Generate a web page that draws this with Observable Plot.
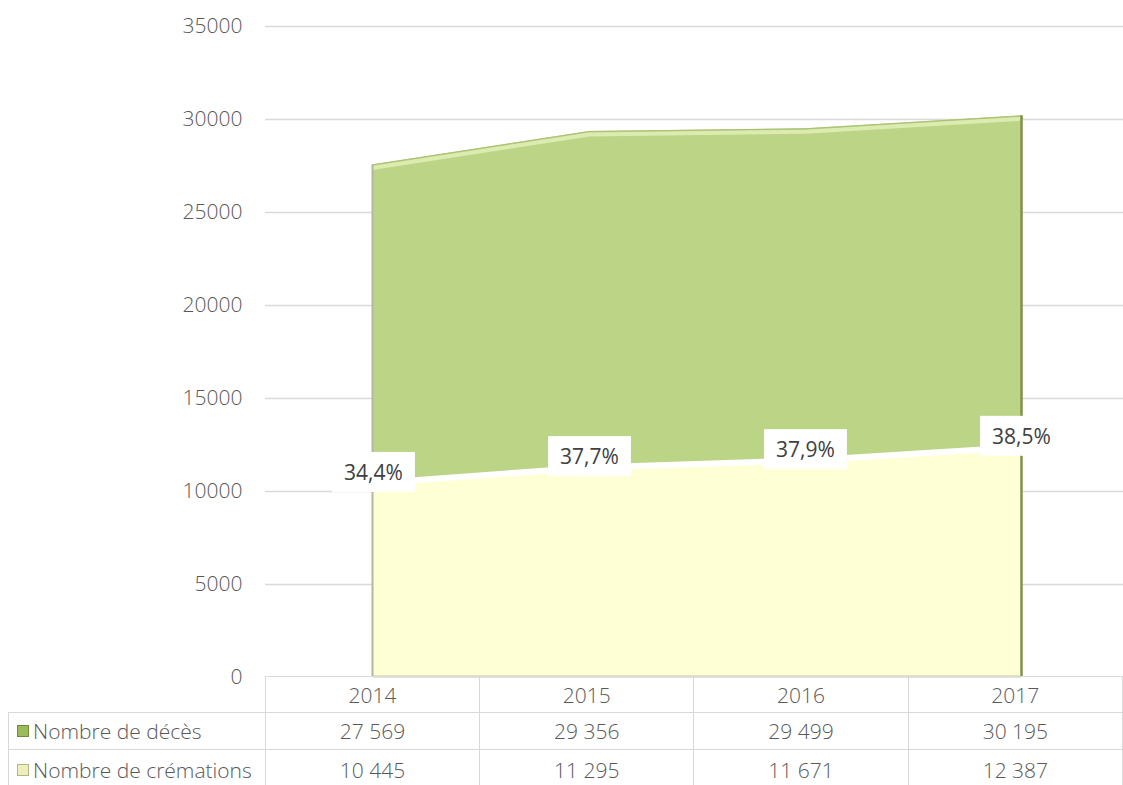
<!DOCTYPE html>
<html><head><meta charset="utf-8">
<script src="https://cdn.jsdelivr.net/npm/d3@7"></script>
<script src="https://cdn.jsdelivr.net/npm/@observablehq/plot@0.6"></script>
<style>
body{margin:0;background:#fff;font-family:"Open Sans",sans-serif;}
#wrap{position:relative;width:1123px;height:785px;overflow:hidden;}
#wrap svg{position:absolute;left:0;top:0;}
table{position:absolute;top:676px;left:8px;border-collapse:collapse;table-layout:fixed;color:#595959;font-size:21px;font-weight:300;font-family:"Open Sans",sans-serif;}
td{border:1.5px solid #d9d9d9;text-align:center;padding:0;white-space:nowrap;}
td.name{text-align:left;padding-left:8px;}
.sw{display:inline-block;width:10px;height:10px;margin-right:4px;vertical-align:middle;position:relative;top:-2px;}
</style></head>
<body><div id="wrap"></div>
<script>
const years = [2014, 2015, 2016, 2017];
const deces = [27569, 29356, 29499, 30195];
const cremations = [10445, 11295, 11671, 12387];
const pctLabels = ["34,4%", "37,7%", "37,9%", "38,5%"];
const yTicks = [0, 5000, 10000, 15000, 20000, 25000, 30000, 35000];
const seriesNames = ["Nombre de décès", "Nombre de crémations"];

const green = "#bcd486", cream = "#ffffd6";
const data = years.map((y, i) => ({year: y, deces: deces[i], crem: cremations[i], pct: pctLabels[i]}));
const fmt = v => String(v).replace(/\B(?=(\d{3})+(?!\d))/g, " ");

const chart = Plot.plot({
  width: 1123, height: 700,
  marginTop: 26, marginBottom: 23, marginLeft: 265, marginRight: 0,
  style: {fontFamily: "Open Sans, sans-serif", fontSize: "21px", fontWeight: 300, color: "#595959", background: "transparent"},
  x: {domain: [2014, 2017], range: [373, 1021], axis: null},
  y: {domain: [0, 35000], axis: null},
  marks: [
    Plot.gridY(yTicks.filter(d => d > 0), {stroke: "#d9d9d9", strokeOpacity: 1, strokeWidth: 1.5}),
    Plot.axisY(yTicks, {tickSize: 0, tickPadding: 23, tickFormat: d => String(d), fontSize: 21, fill: "#595959"}),
    Plot.areaY(data, {x: "year", y: "deces", fill: green}),
    Plot.lineY(data, {x: "year", y: "deces", stroke: "#dcebb0", strokeWidth: 4, dy: 3}),
    Plot.lineY(data, {x: "year", y: "deces", stroke: "#a9c072", strokeWidth: 1}),
    Plot.areaY(data, {x: "year", y: "crem", fill: cream}),
    Plot.lineY(data, {x: "year", y: "crem", stroke: "white", strokeWidth: 6}),
    Plot.ruleX(data.slice(0, 1), {x: "year", y1: 0, y2: "deces", stroke: "#b5b5a0", strokeWidth: 2, dx: -1}),
    Plot.ruleX(data.slice(-1), {x: "year", y1: 0, y2: "deces", stroke: "#7f914c", strokeWidth: 2.5}),
    Plot.ruleY([0], {x1: 2014, x2: 2017, stroke: "#c8c8a8", strokeWidth: 2, dy: -1}),
    Plot.text(data, {x: "year", y: "crem", text: "pct", dy: -10, fill: "#404040", fontSize: 21, fontWeight: 400})
  ]
});
const wrap = document.getElementById("wrap");
wrap.append(chart);

// white boxes behind percentage labels
chart.querySelectorAll('g[aria-label="text"] text').forEach(t => {
  const b = t.getBBox();
  const r = document.createElementNS("http://www.w3.org/2000/svg", "rect");
  r.setAttribute("x", b.x - 12); r.setAttribute("y", b.y - 6);
  r.setAttribute("width", b.width + 24); r.setAttribute("height", b.height + 12);
  r.setAttribute("fill", "white");
  if (t.getAttribute("transform")) r.setAttribute("transform", t.getAttribute("transform"));
  t.parentNode.insertBefore(r, t);
});

// data table with legend
const table = document.createElement("table");
const cg = document.createElement("colgroup");
[257, 216, 216, 216, 216].forEach(w => { const c = document.createElement("col"); c.style.width = w + "px"; cg.append(c); });
table.append(cg);
const hr = table.insertRow(); hr.style.height = "36px";
const h0 = hr.insertCell(); h0.style.border = "none"; h0.style.borderRight = "1.5px solid #d9d9d9";
years.forEach(y => { const c = hr.insertCell(); c.textContent = y; });
const rows = [[seriesNames[0], deces, "#9bbb59", "#6f8a3a"], [seriesNames[1], cremations, "#eeeebb", "#b4b48a"]];
rows.forEach(([name, vals, col, bd], i) => {
  const r = table.insertRow(); r.style.height = i === 0 ? "37px" : "40px";
  const c0 = r.insertCell(); c0.className = "name";
  const sw = document.createElement("span"); sw.className = "sw";
  sw.style.background = col; sw.style.border = "1px solid " + bd;
  c0.append(sw, document.createTextNode(name));
  vals.forEach(v => { const c = r.insertCell(); c.textContent = fmt(v); });
});
wrap.append(table);
</script>
</body></html>
